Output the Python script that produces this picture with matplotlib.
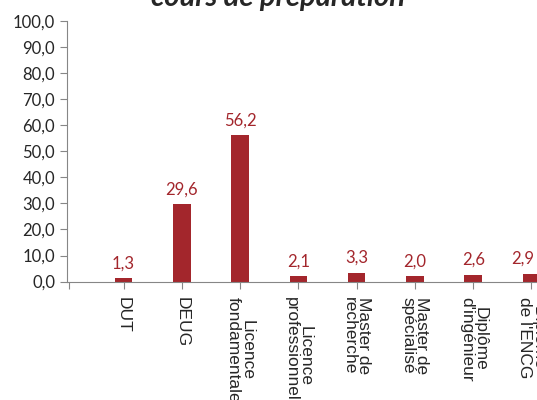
import matplotlib
matplotlib.use("Agg")
import matplotlib.pyplot as plt
from matplotlib import font_manager
from matplotlib.transforms import ScaledTranslation

categories = ["DUT", "DEUG", "Licence\nfondamentale", "Licence\nprofessionnelle",
              "Master de\nrecherche", "Master de\nspécialisé", "Diplôme\nd'ingénieur",
              "Diplôme\nde l'ENCG"]
values = [1.3, 29.6, 56.2, 2.1, 3.3, 2.0, 2.6, 2.9]
y_ticks = [0, 10, 20, 30, 40, 50, 60, 70, 80, 90, 100]

bar_color = "#A3262C"
axis_color = "#868686"
text_color = "#262626"

# the category labels look like a narrow Arial
names = {f.name for f in font_manager.fontManager.ttflist}
narrow = "Liberation Sans Narrow" in names
label_font = "Liberation Sans Narrow" if narrow else "Liberation Sans"
label_size = 14.5 if narrow else 12.5

fig = plt.figure(figsize=(5.37, 4.0), dpi=100)
# axes run past the right edge, like the cropped original
ax = fig.add_axes([0.1248, 0.296, 0.93, 0.6515])

x = list(range(1, len(values) + 1))
ax.bar(x, values, width=0.3, color=bar_color, zorder=2)

for i, (xi, v) in enumerate(zip(x, values)):
    # last label gets pushed back inside the chart area, as Excel did
    dx = -6 if i == len(values) - 1 else 0
    ax.annotate(f"{v:.1f}".replace(".", ","), (xi, v), xytext=(dx, 5),
                textcoords="offset points", ha="center", va="bottom",
                color=bar_color, fontsize=12, family="Lato")

ax.set_xlim(0.03, 8.6)
ax.set_ylim(0, 100)
ax.set_yticks(y_ticks)
ax.set_yticklabels([f"{t:.1f}".replace(".", ",") for t in y_ticks],
                   fontsize=12, family="Lato")
ax.set_xticks([0.07] + x)
ax.set_xticklabels([""] + categories, rotation=-90, fontsize=label_size,
                   family=label_font, va="top", ha="center", linespacing=0.9)
shift = ScaledTranslation(-3 / 72, 0, fig.dpi_scale_trans)
for lbl in ax.get_xticklabels():
    lbl.set_transform(lbl.get_transform() + shift)

for s in ["top", "right"]:
    ax.spines[s].set_visible(False)
for s in ["left", "bottom"]:
    ax.spines[s].set_color(axis_color)
ax.tick_params(axis="both", color=axis_color, labelcolor=text_color, length=5)
ax.tick_params(axis="x", pad=6)

fig.text(0.518, 0.985, "cours de préparation", ha="center", va="baseline",
         fontsize=21, fontweight="bold", fontstyle="italic", family="Lato",
         color=text_color)

fig.savefig("out.png", dpi=100)
